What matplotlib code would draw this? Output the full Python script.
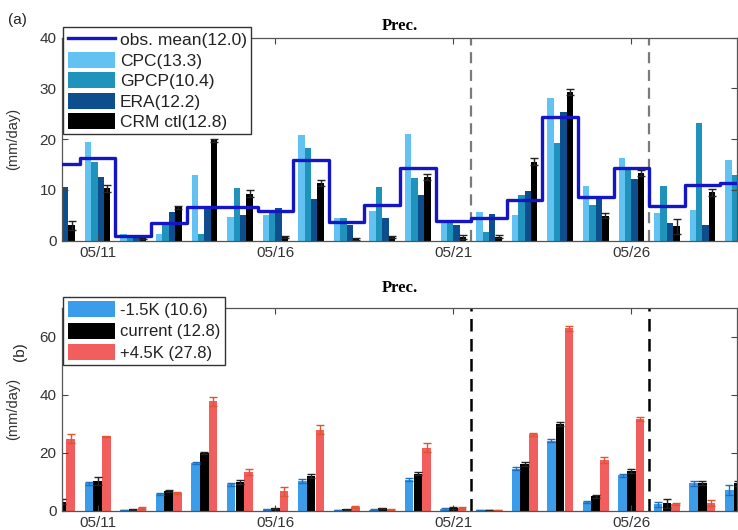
import numpy as np
import matplotlib
matplotlib.use('Agg')
import matplotlib.pyplot as plt
from matplotlib.patches import Patch
from matplotlib.lines import Line2D

plt.rcParams['font.family'] = ['Liberation Sans', 'DejaVu Sans']

nan = np.nan

# days of May, 05/10 .. 05/29
days = np.arange(10, 30)
tick_days = [11, 16, 21, 26]
tick_labels = ['05/11', '05/16', '05/21', '05/26']
split_days = [21.5, 26.5]

# panel (a): observations and control run (mm/day)
obs_mean = [15.1, 16.2, 0.9, 3.5, 6.7, 6.7, 5.9, 15.9, 3.7, 7.0,
            14.4, 3.9, 4.4, 8.1, 24.4, 8.7, 14.4, 6.8, 11.0, 11.4]
cpc = [nan, 19.5, 1.3, 1.4, 12.9, 4.7, 5.1, 20.8, 4.4, 5.9,
       21.0, 3.9, 5.6, 5.1, 28.2, 10.8, 16.2, 5.4, 6.0, 16.0]
gpcp = [nan, 15.6, 0.9, 3.4, 1.3, 10.3, 6.0, 18.2, 4.4, 10.5,
        12.3, 3.9, 1.8, 9.0, 19.2, 7.0, 14.6, 10.8, 23.1, 12.9]
era = [10.6, 12.5, 0.8, 5.7, 6.4, 5.1, 6.4, 8.3, 3.1, 4.4,
       9.0, 3.1, 5.3, 9.8, 25.4, 8.5, 12.1, 3.5, 3.1, nan]
crm_ctl = [3.0, 10.3, 0.5, 6.6, 19.8, 9.3, 0.8, 11.4, 0.3, 0.8,
           12.5, 0.8, 0.8, 15.6, 29.3, 4.9, 13.3, 2.8, 9.5, nan]
crm_ctl_err = [0.8, 0.7, 0.2, 0.3, 0.3, 0.6, 0.2, 0.6, 0.2, 0.2,
               0.6, 0.4, 0.3, 0.7, 0.6, 0.5, 0.6, 1.5, 0.7, nan]
labels_a = ['obs. mean(12.0)', 'CPC(13.3)', 'GPCP(10.4)', 'ERA(12.2)', 'CRM ctl(12.8)']

# panel (b): warming experiments (mm/day)
minus15 = [nan, 9.4, 0.3, 5.7, 16.5, 9.1, 0.5, 10.3, 0.3, 0.4,
           10.7, 0.6, 0.3, 14.5, 24.2, 2.9, 12.2, 2.2, 9.4, 7.1]
minus15_err = [nan, 0.6, 0.1, 0.3, 0.4, 0.6, 0.2, 0.6, 0.1, 0.1,
               0.5, 0.2, 0.1, 0.4, 0.5, 0.4, 0.6, 0.9, 1.0, 1.7]
current = [3.1, 10.3, 0.5, 6.9, 19.9, 9.9, 0.8, 11.9, 0.5, 0.8,
           12.8, 1.0, 0.3, 16.0, 29.9, 5.0, 13.7, 2.5, 9.6, 9.4]
current_err = [0.8, 1.3, 0.2, 0.4, 0.4, 0.6, 0.3, 0.6, 0.2, 0.2,
               0.6, 0.4, 0.1, 0.7, 0.6, 0.5, 0.6, 1.7, 0.8, 0.8]
plus45 = [24.8, 25.6, 1.0, 6.2, 37.7, 13.4, 6.7, 27.9, 1.3, 0.5,
          21.7, 1.0, 0.3, 26.3, 62.9, 17.4, 31.7, 2.3, 2.7, nan]
plus45_err = [1.5, 0.3, 0.3, 0.3, 1.6, 1.1, 1.5, 1.5, 0.3, 0.2,
              1.6, 0.3, 0.1, 0.5, 0.8, 1.1, 0.6, 0.5, 1.0, nan]
labels_b = ['-1.5K (10.6)', 'current (12.8)', '+4.5K (27.8)']

# colours
c_obs = '#1515c8'
c_cpc = '#62c3f2'
c_gpcp = '#1f93bb'
c_era = '#0d4f8e'
c_crm = '#000000'
c_m15 = '#3b9cea'
c_cur = '#000000'
c_p45 = '#f25d5d'

fig = plt.figure(figsize=(7.38, 5.30), dpi=100)
W, H = 738, 530
x0, x1 = 62, 737
ax_a = fig.add_axes([x0 / W, 1 - 240.7 / H, (x1 - x0) / W, 203 / H])
ax_b = fig.add_axes([x0 / W, 1 - 510.7 / H, (x1 - x0) / W, 203 / H])


def style_axes(ax, ylim, yticks):
    ax.set_xlim(10.0, 28.97)
    ax.set_ylim(*ylim)
    ax.set_yticks(yticks)
    ax.set_xticks(tick_days)
    ax.set_xticklabels(tick_labels)
    ax.tick_params(direction='in', length=4, width=0.8, top=True, right=True,
                   labelsize=11, labelcolor='#333333', color='#444444', pad=4)
    for s in ax.spines.values():
        s.set_color('#555555')
        s.set_linewidth(0.9)
    ax.set_ylabel('(mm/day)', fontsize=10.5, color='#333333')
    ax.yaxis.set_label_coords(-0.062, 0.5)


def style_legend(leg):
    leg.get_frame().set_linewidth(1.0)
    leg.set_zorder(10)
    for t in leg.get_texts():
        t.set_color('#222222')


# ---- panel (a)
bw = 0.18
offs = [-0.27, -0.09, 0.09, 0.27]
ax_a.bar(days + offs[0], cpc, bw, color=c_cpc, linewidth=0)
ax_a.bar(days + offs[1], gpcp, bw, color=c_gpcp, linewidth=0)
ax_a.bar(days + offs[2], era, bw, color=c_era, linewidth=0)
ax_a.bar(days + offs[3], crm_ctl, bw, color=c_crm, linewidth=0)
ax_a.errorbar(days + offs[3], crm_ctl, yerr=crm_ctl_err, fmt='none',
              ecolor='#222222', elinewidth=1.0, capsize=3, capthick=1.0)
ax_a.step(np.append(days, 30), np.append(obs_mean, obs_mean[-1]), where='mid',
          color=c_obs, linewidth=2.4, zorder=5)
for d in split_days:
    ax_a.axvline(d, color='#7a7a7a', linestyle=(0, (5, 3)), linewidth=1.6, zorder=1)
style_axes(ax_a, (0, 40), [0, 10, 20, 30, 40])

handles_a = [Line2D([], [], color=c_obs, linewidth=2.4),
             Patch(facecolor=c_cpc), Patch(facecolor=c_gpcp),
             Patch(facecolor=c_era), Patch(facecolor=c_crm)]
leg = ax_a.legend(handles_a, labels_a, loc='upper left', bbox_to_anchor=(0.002, 1.053),
                  fontsize=12.5, frameon=True, fancybox=False, framealpha=1,
                  edgecolor='#333333', borderaxespad=0, borderpad=0.25,
                  handlelength=2.7, handleheight=1.05, handletextpad=0.3,
                  labelspacing=0.2)
style_legend(leg)

ax_a.text(0.5, 1.02, 'Prec.', transform=ax_a.transAxes, ha='center', va='bottom',
          family=['Liberation Serif', 'DejaVu Serif'], fontweight='bold', fontsize=12)
fig.text(8 / W, 1 - 20 / H, '(a)', fontsize=11, color='#222222', va='center')

# ---- panel (b)
bw_b = 0.24
offs_b = [-0.245, 0.0, 0.245]
ax_b.bar(days + offs_b[0], minus15, bw_b, color=c_m15, linewidth=0)
ax_b.bar(days + offs_b[1], current, bw_b, color=c_cur, linewidth=0)
ax_b.bar(days + offs_b[2], plus45, bw_b, color=c_p45, linewidth=0)
ax_b.errorbar(days + offs_b[0], minus15, yerr=minus15_err, fmt='none',
              ecolor='#1f6fc0', elinewidth=1.0, capsize=3, capthick=1.0)
ax_b.errorbar(days + offs_b[1], current, yerr=current_err, fmt='none',
              ecolor='#222222', elinewidth=1.0, capsize=3, capthick=1.0)
ax_b.errorbar(days + offs_b[2], plus45, yerr=plus45_err, fmt='none',
              ecolor='#e0552f', elinewidth=1.0, capsize=3, capthick=1.0)
for d in split_days:
    ax_b.axvline(d, color='#000000', linestyle=(0, (5, 3)), linewidth=1.8, zorder=1)
style_axes(ax_b, (0, 70), [0, 20, 40, 60])

handles_b = [Patch(facecolor=c_m15), Patch(facecolor=c_cur), Patch(facecolor=c_p45)]
leg_b = ax_b.legend(handles_b, labels_b, loc='upper left', bbox_to_anchor=(0.002, 1.053),
                    fontsize=12, frameon=True, fancybox=False, framealpha=1,
                    edgecolor='#333333', borderaxespad=0, borderpad=0.25,
                    handlelength=2.85, handleheight=1.1, handletextpad=0.3,
                    labelspacing=0.3)
style_legend(leg_b)

ax_b.text(0.5, 1.06, 'Prec.', transform=ax_b.transAxes, ha='center', va='bottom',
          family=['Liberation Serif', 'DejaVu Serif'], fontweight='bold', fontsize=12)
fig.text(20 / W, 1 - 352 / H, '(b)', fontsize=11, color='#222222', va='center',
         ha='center', rotation=90)

fig.savefig('out.png', dpi=100, facecolor='white')
